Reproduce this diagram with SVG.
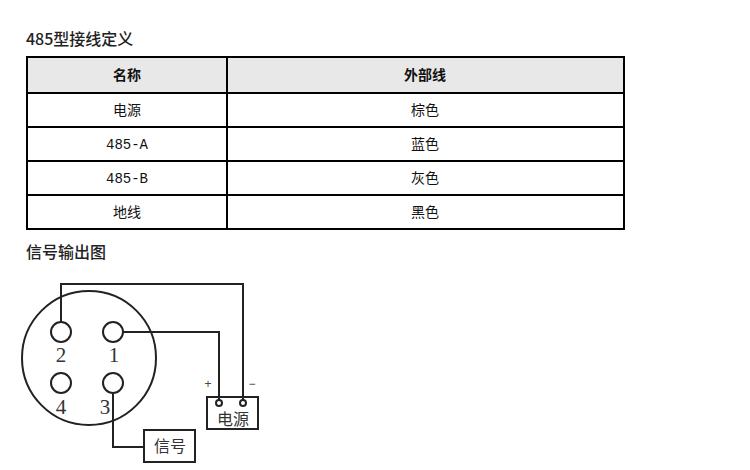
<svg xmlns="http://www.w3.org/2000/svg" width="750" height="470" viewBox="0 0 750 470">
<style>
.title{font-family:"Noto Sans CJK SC","Noto Sans",sans-serif;font-size:16px;font-weight:500;fill:#222}
.th{font-family:"Noto Sans CJK SC",sans-serif;font-size:14px;font-weight:bold;fill:#111;text-anchor:middle}
.td{font-family:"Liberation Mono","Noto Sans CJK SC",monospace;font-size:14px;fill:#111;text-anchor:middle}
.ln{stroke:#000;stroke-width:2;fill:none}
.w{stroke:#222;stroke-width:2;fill:none}
.pin{stroke:#222;stroke-width:2;fill:#fff}
.num{font-family:"Liberation Serif",serif;font-size:21px;fill:#333;text-anchor:middle}
.lab{font-family:"Noto Sans CJK SC",serif;font-size:16px;fill:#333;text-anchor:middle}
.pm{font-family:"Liberation Sans",sans-serif;font-size:12px;fill:#444;text-anchor:middle}
</style>
<rect width="750" height="470" fill="#fff"/>
<text class="title" x="26" y="45">485型接线定义</text>
<g id="table">
<rect x="27" y="57" width="597" height="36" fill="#e8e8e8"/>
<rect x="27" y="57" width="597" height="172" class="ln"/>
<line x1="227" y1="57" x2="227" y2="229" class="ln"/>
<line x1="27" y1="93" x2="624" y2="93" class="ln"/>
<line x1="27" y1="127" x2="624" y2="127" class="ln"/>
<line x1="27" y1="161" x2="624" y2="161" class="ln"/>
<line x1="27" y1="195" x2="624" y2="195" class="ln"/>
<text class="th" x="127" y="80">名称</text>
<text class="th" x="425" y="80">外部线</text>
<text class="td" x="127" y="115">电源</text>
<text class="td" x="425" y="115">棕色</text>
<text class="td" x="127" y="149">485-A</text>
<text class="td" x="425" y="149">蓝色</text>
<text class="td" x="127" y="183">485-B</text>
<text class="td" x="425" y="183">灰色</text>
<text class="td" x="127" y="217">地线</text>
<text class="td" x="425" y="217">黑色</text>
</g>
<text class="title" x="26" y="258">信号输出图</text>
<g id="connectors">
<polyline class="w" points="61,322 61,284 243,284 243,400"/>
<polyline class="w" points="123,332 219,332 219,400"/>
<polyline class="w" points="113,393 113,447 144,447"/>
</g>
<g id="connector">
<circle cx="89" cy="358" r="67" class="w"/>
<circle cx="61" cy="332" r="10" class="pin"/>
<circle cx="113" cy="332" r="10" class="pin"/>
<circle cx="61" cy="383" r="10" class="pin"/>
<circle cx="113" cy="383" r="10" class="pin"/>
<text class="num" x="61" y="362">2</text>
<text class="num" x="114" y="362">1</text>
<text class="num" x="61" y="414">4</text>
<text class="num" x="105" y="414">3</text>
</g>
<g id="power">
<rect x="207" y="397" width="51" height="32" class="w"/>
<circle cx="219" cy="403" r="3" class="pin" stroke-width="1.5"/>
<circle cx="243" cy="403" r="3" class="pin" stroke-width="1.5"/>
<text class="lab" x="233" y="425">电源</text>
<text class="pm" x="208" y="388">+</text>
<text class="pm" x="252" y="388">−</text>
</g>
<g id="signal">
<rect x="144" y="430" width="51" height="32" class="w"/>
<text class="lab" x="170" y="452">信号</text>
</g>
</svg>
